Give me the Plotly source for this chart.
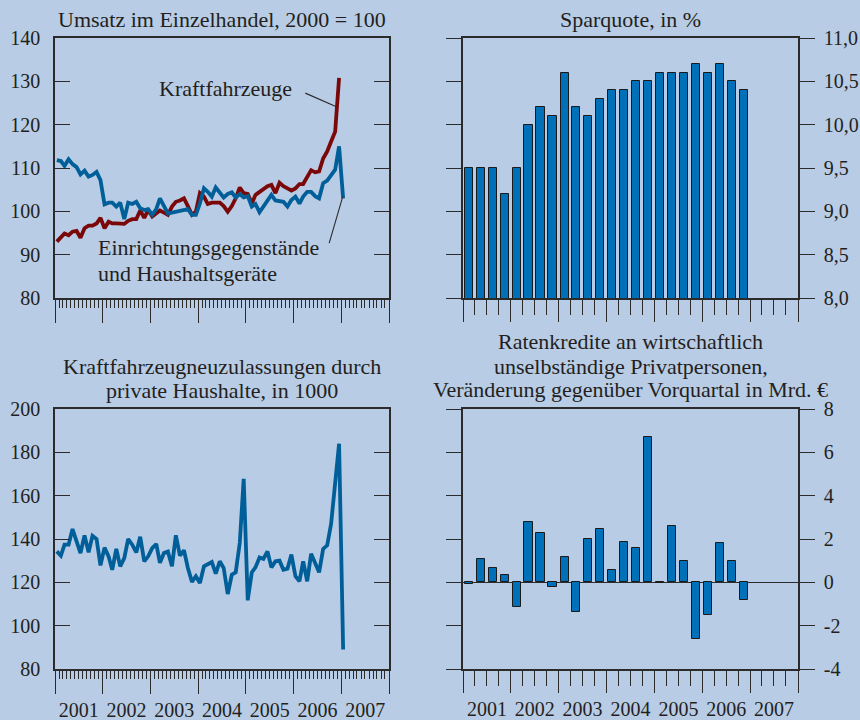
import pandas as pd
import plotly.graph_objects as go

# ---------------- data ----------------
einrichtung = [111.8, 111.6, 110.5, 112.0, 110.9, 110.2, 108.5, 109.4, 108.0, 108.4, 109.1, 107.2,
               101.6, 102.0, 102.0, 101.1, 102.0, 98.2, 102.0, 101.7, 102.2, 100.7, 100.3, 100.5,
               99.2, 100.5, 103.0, 101.1, 99.5, 99.7, 99.9, 100.2, 100.3, 100.5, 99.2, 99.2,
               101.8, 105.3, 104.5, 103.4, 105.5, 104.2, 103.2, 104.0, 104.4, 103.2, 104.0, 103.2,
               103.5, 101.1, 101.7, 99.8, 101.1, 102.2, 103.8, 102.5, 102.4, 102.2, 101.1, 102.6,
               103.4, 101.8, 103.4, 104.5, 104.5, 103.5, 103.0, 106.5, 107.1, 108.4, 109.6, 115.0,
               103.0]
kraftfahrzeuge = [93.0, 93.9, 94.9, 94.5, 95.3, 95.5, 93.9, 96.1, 96.7, 96.7, 97.2, 98.5,
                  96.1, 97.6, 97.2, 97.2, 97.2, 97.1, 97.8, 98.2, 98.2, 100.2, 98.5, 100.3,
                  98.8, 99.4, 100.2, 99.7, 99.2, 101.1, 102.2, 102.5, 103.0, 101.2, 99.2, 99.9,
                  104.2, 103.4, 101.7, 102.0, 102.0, 102.0, 101.2, 99.9, 101.2, 103.0, 105.5, 104.2,
                  104.0, 101.8, 103.8, 104.5, 105.1, 105.8, 106.1, 104.2, 106.6, 105.8, 105.3, 104.8,
                  105.3, 106.3, 106.3, 108.0, 109.5, 109.0, 109.2, 112.2, 113.8, 116.1, 118.4, 130.8]
neuzulassungen = [134.3, 132.3, 137.4, 137.4, 144.6, 139.0, 133.5, 141.7, 133.8, 141.5, 140.0, 127.8,
                  136.0, 132.0, 125.8, 135.4, 127.4, 131.2, 140.0, 137.4, 133.8, 141.0, 129.7, 132.0,
                  135.8, 137.7, 129.0, 133.5, 134.2, 127.4, 141.7, 132.3, 134.8, 126.6, 120.2, 122.8,
                  119.7, 127.4, 128.5, 129.4, 124.0, 129.7, 126.6, 114.6, 123.5, 124.6, 138.2, 167.8,
                  111.7, 124.6, 126.9, 131.5, 130.8, 134.3, 126.9, 129.7, 130.0, 125.8, 126.3, 132.8,
                  122.8, 120.5, 129.7, 120.5, 133.2, 129.2, 124.6, 135.4, 137.1, 147.0, 164.0, 184.0,
                  89.0]
sparquote = [9.5, 9.5, 9.5, 9.2, 9.5, 10.0, 10.2, 10.1, 10.6, 10.2, 10.1, 10.3,
             10.4, 10.4, 10.5, 10.5, 10.6, 10.6, 10.6, 10.7, 10.6, 10.7, 10.5, 10.4]
ratenkredite = [-0.07, 1.07, 0.68, 0.35, -1.15, 2.8, 2.28, -0.23, 1.18, -1.35, 2.0, 2.45,
                0.55, 1.86, 1.6, 6.7, -0.05, 2.6, 1.0, -2.63, -1.5, 1.83, 1.0, -0.83]

months = pd.date_range("2001-01-01", periods=73, freq="MS") + pd.Timedelta(days=14)
quarters = pd.date_range("2001-01-01", periods=24, freq="QS") + pd.Timedelta(days=45)

title_tl = ["Umsatz im Einzelhandel, 2000 = 100"]
title_tr = ["Sparquote, in %"]
title_bl = ["Kraftfahrzeugneuzulassungen durch", "private Haushalte, in 1000"]
title_br = ["Ratenkredite an wirtschaftlich", "unselbständige Privatpersonen,",
            "Veränderung gegenüber Vorquartal in Mrd. €"]
label_kfz = ["Kraftfahrzeuge"]
label_ein = ["Einrichtungsgegenstände", "und Haushaltsgeräte"]
y_ticks_br = [-4, -2, 0, 2, 4, 6, 8]
y_text_br = ["-4", "-2", "0", "2", "4", "6", "8"]

# ---------------- style ----------------
BG = "#b8cce5"
AX = "#2b2b2b"
TXT = "#231f20"
BLUE = "#005f99"
RED = "#7a0808"
BAR = "#0070b8"
FONT = "Liberation Serif"
FS_TICK = 20
FS_TXT = 22
XR = ["2001-01-01", "2008-01-01"]
DX_L = [55 / 860, 389 / 860]
DX_R = [463 / 860, 798 / 860]
DY_T = [1 - 298 / 720, 1 - 38 / 720]
DY_B = [1 - 669 / 720, 1 - 409 / 720]
BARW = 0.68 * 91.3 * 86400000

fig = go.Figure()
fig.add_trace(go.Scatter(x=months[:72], y=kraftfahrzeuge, mode="lines",
                         line=dict(color=RED, width=3.8), xaxis="x", yaxis="y", showlegend=False))
fig.add_trace(go.Scatter(x=months, y=einrichtung, mode="lines",
                         line=dict(color=BLUE, width=3.8), xaxis="x", yaxis="y", showlegend=False))
fig.add_trace(go.Bar(x=quarters, y=sparquote, width=BARW, marker=dict(color=BAR, line=dict(color="#1a1a1a", width=1)),
                     xaxis="x2", yaxis="y2", showlegend=False))
fig.add_trace(go.Scatter(x=months, y=neuzulassungen, mode="lines",
                         line=dict(color=BLUE, width=3.8), xaxis="x3", yaxis="y3", showlegend=False))
fig.add_trace(go.Bar(x=quarters, y=ratenkredite, width=BARW, marker=dict(color=BAR, line=dict(color="#1a1a1a", width=1)),
                     xaxis="x4", yaxis="y4", showlegend=False))

tickfont = dict(family=FONT, size=FS_TICK, color=TXT)


def xax(domain, anchor, labels, minor_dtick, minor_len, major_len):
    return dict(domain=domain, anchor=anchor, type="date", range=XR, showgrid=False, zeroline=False,
                automargin=False, showline=True, linecolor=AX, linewidth=1.5, mirror=True,
                ticks="outside", ticklen=major_len, tickwidth=1.3, tickcolor=AX,
                dtick="M12", tick0="2001-01-01", showticklabels=labels,
                tickformat="%Y", ticklabelmode="period", tickfont=tickfont, ticklabelstandoff=-1,
                minor=dict(dtick=minor_dtick, tick0="2001-01-01", ticks="outside", ticklen=minor_len,
                           tickwidth=1.2, tickcolor=AX, showgrid=False))


def overlay(base, anchor):
    return dict(overlaying=base, anchor=anchor, type="date", range=XR, showgrid=False, zeroline=False,
                automargin=False, showline=False, ticks="outside", ticklen=16, tickwidth=1.2, tickcolor=AX,
                dtick="M3", tick0="2001-01-01", showticklabels=False)


def yax(domain, anchor, rng, side, ticks, **kw):
    d = dict(domain=domain, anchor=anchor, range=rng, side=side, showgrid=False, zeroline=False,
             automargin=False, showline=True, linecolor=AX, linewidth=1.5, mirror="ticks",
             ticks=ticks, ticklen=15, tickwidth=1.3, tickcolor=AX, tickfont=tickfont)
    d.update(kw)
    return d


fig.update_layout(
    width=860, height=720, margin=dict(l=0, r=0, t=0, b=0, autoexpand=False),
    paper_bgcolor=BG, plot_bgcolor=BG, separators=",.",
    font=dict(family=FONT, size=FS_TICK, color=TXT),
    bargap=0,
    xaxis=xax(DX_L, "y", False, "M1", 8, 23),
    xaxis5=overlay("x", "y"),
    yaxis=yax(DY_T, "x", [80, 140], "left", "inside", dtick=10, ticklabelstandoff=9),
    xaxis2=xax(DX_R, "y2", False, "M3", 15, 22),
    yaxis2=yax(DY_T, "x2", [8, 11], "right", "outside", dtick=0.5, tickformat=".1f", ticklabelstandoff=5),
    xaxis3=xax(DX_L, "y3", True, "M1", 8, 23),
    xaxis6=overlay("x3", "y3"),
    yaxis3=yax(DY_B, "x3", [80, 200], "left", "inside", dtick=20, ticklabelstandoff=9),
    xaxis4=xax(DX_R, "y4", True, "M3", 15, 22),
    yaxis4=yax(DY_B, "x4", [-4, 8], "right", "outside", tickvals=y_ticks_br, ticktext=y_text_br,
               zeroline=True, zerolinecolor=AX, zerolinewidth=1.3, ticklabelstandoff=5),
)

ann = []


def text_lines(lines, xref, x, xanchor, centers):
    for line, yc in zip(lines, centers):
        ann.append(dict(text=line, xref=xref, x=x, yref="paper", y=1 - yc / 720,
                        xanchor=xanchor, yanchor="middle", showarrow=False,
                        font=dict(family=FONT, size=FS_TXT, color=TXT)))


text_lines(title_tl, "x domain", 0.5, "center", [19])
text_lines(title_tr, "x2 domain", 0.5, "center", [19])
text_lines(title_bl, "x3 domain", 0.5, "center", [366, 391])
text_lines(title_br, "x4 domain", 0.5, "center", [341, 366, 389])
text_lines(label_kfz, "paper", 157 / 860, "left", [88])
text_lines(label_ein, "paper", 96 / 860, "left", [247, 273])

# leader lines
ann.append(dict(text="", xref="x", yref="y", x="2006-11-20", y=124.2, ax=-32, ay=-14,
                showarrow=True, arrowhead=0, arrowwidth=1.1, arrowcolor=AX))
ann.append(dict(text="", xref="x", yref="y", x="2007-01-12", y=103.4, ax=-14, ay=48,
                showarrow=True, arrowhead=0, arrowwidth=1.1, arrowcolor=AX))

fig.update_layout(annotations=ann)
fig.write_html("out.html", config={"displayModeBar": False},
               post_script="document.body.style.margin='0px';document.body.style.overflow='hidden';")
